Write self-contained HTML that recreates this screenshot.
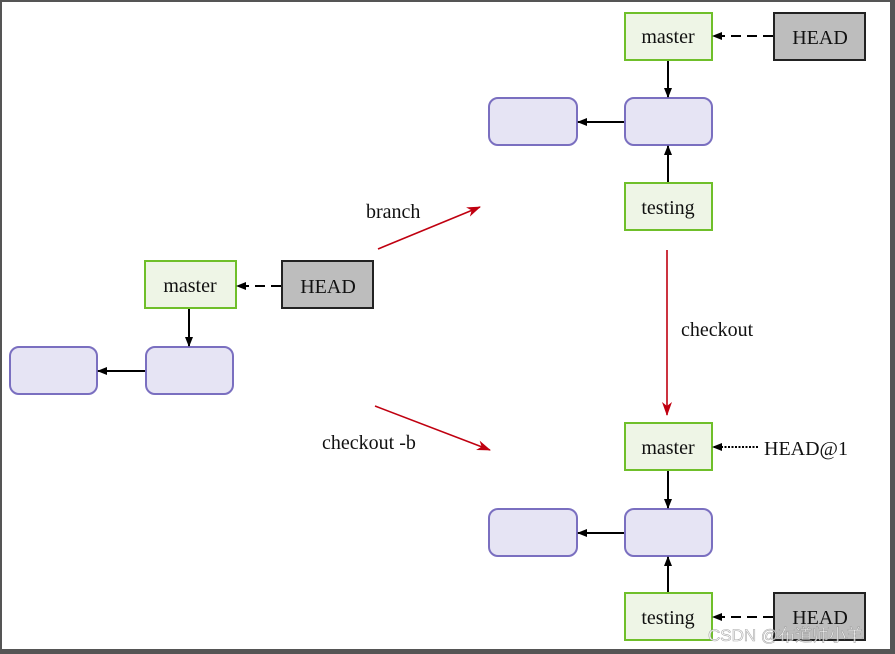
<!DOCTYPE html>
<html><head><style>
html,body{margin:0;padding:0;background:#fff;}
svg{display:block;}
text{font-family:"Liberation Serif",serif;font-size:20px;fill:#111;}
</style></head><body>
<svg width="895" height="654" viewBox="0 0 895 654" xmlns="http://www.w3.org/2000/svg">
<defs>
<marker id="a" markerWidth="10" markerHeight="8" refX="9" refY="4" orient="auto" markerUnits="userSpaceOnUse"><path d="M0,0 L10,4 L0,8 Z" fill="#000"/></marker>
<marker id="r" markerWidth="14" markerHeight="10" refX="13" refY="5" orient="auto" markerUnits="userSpaceOnUse"><path d="M0,0 L14,5 L0,10 L4,5 Z" fill="#c00010"/></marker>
</defs>
<rect x="0" y="0" width="895" height="654" fill="#555"/>
<rect x="2" y="2" width="888" height="647" fill="#fff"/>
<g stroke="#6fbf2a" stroke-width="2" fill="#eef5e6">
<rect x="625" y="13" width="87" height="47"/><rect x="625" y="183" width="87" height="47"/>
<rect x="625" y="423" width="87" height="47"/><rect x="625" y="593" width="87" height="47"/>
<rect x="145" y="261" width="91" height="47"/>
</g>
<g stroke="#222" stroke-width="2" fill="#bdbdbd">
<rect x="774" y="13" width="91" height="47"/><rect x="774" y="593" width="91" height="47"/>
<rect x="282" y="261" width="91" height="47"/>
</g>
<g stroke="#7a6fc0" stroke-width="2" fill="#e6e4f4">
<rect x="489" y="98" width="88" height="47" rx="9"/><rect x="625" y="98" width="87" height="47" rx="9"/>
<rect x="489" y="509" width="88" height="47" rx="9"/><rect x="625" y="509" width="87" height="47" rx="9"/>
<rect x="10" y="347" width="87" height="47" rx="9"/><rect x="146" y="347" width="87" height="47" rx="9"/>
</g>
<g stroke="#000" stroke-width="2" fill="none">
<line x1="668" y1="61" x2="668" y2="97" marker-end="url(#a)"/>
<line x1="624" y1="122" x2="578" y2="122" marker-end="url(#a)"/>
<line x1="668" y1="182" x2="668" y2="146" marker-end="url(#a)"/>
<line x1="773" y1="36" x2="713" y2="36" stroke-dasharray="10,6" marker-end="url(#a)"/>
<line x1="668" y1="471" x2="668" y2="508" marker-end="url(#a)"/>
<line x1="624" y1="533" x2="578" y2="533" marker-end="url(#a)"/>
<line x1="668" y1="592" x2="668" y2="557" marker-end="url(#a)"/>
<line x1="773" y1="617" x2="713" y2="617" stroke-dasharray="10,6" marker-end="url(#a)"/>
<line x1="758" y1="447" x2="713" y2="447" stroke-dasharray="2,1.5" marker-end="url(#a)"/>
<line x1="189" y1="309" x2="189" y2="346" marker-end="url(#a)"/>
<line x1="145" y1="371" x2="98" y2="371" marker-end="url(#a)"/>
<line x1="281" y1="286" x2="237" y2="286" stroke-dasharray="10,6" marker-end="url(#a)"/>
</g>
<g stroke="#c00010" stroke-width="1.6" fill="none">
<line x1="378" y1="249" x2="480" y2="207" marker-end="url(#r)"/>
<line x1="375" y1="406" x2="490" y2="450" marker-end="url(#r)"/>
<line x1="667" y1="250" x2="667" y2="415" marker-end="url(#r)"/>
</g>
<g text-anchor="middle">
<text x="668" y="43">master</text><text x="668" y="214">testing</text>
<text x="668" y="454">master</text><text x="668" y="624">testing</text>
<text x="190" y="292">master</text>
<text x="820" y="44">HEAD</text><text x="820" y="624">HEAD</text><text x="328" y="293">HEAD</text>
</g>
<text x="764" y="455">HEAD@1</text>
<text x="366" y="218">branch</text>
<text x="322" y="449">checkout -b</text>
<text x="681" y="336">checkout</text>
<text x="708" y="641" style="font-family:'Liberation Sans','Noto Sans CJK SC',sans-serif;font-size:17px;fill:#fff;stroke:#999;stroke-width:0.6;opacity:0.85">CSDN @布道师小羊</text>
</svg>
</body></html>
